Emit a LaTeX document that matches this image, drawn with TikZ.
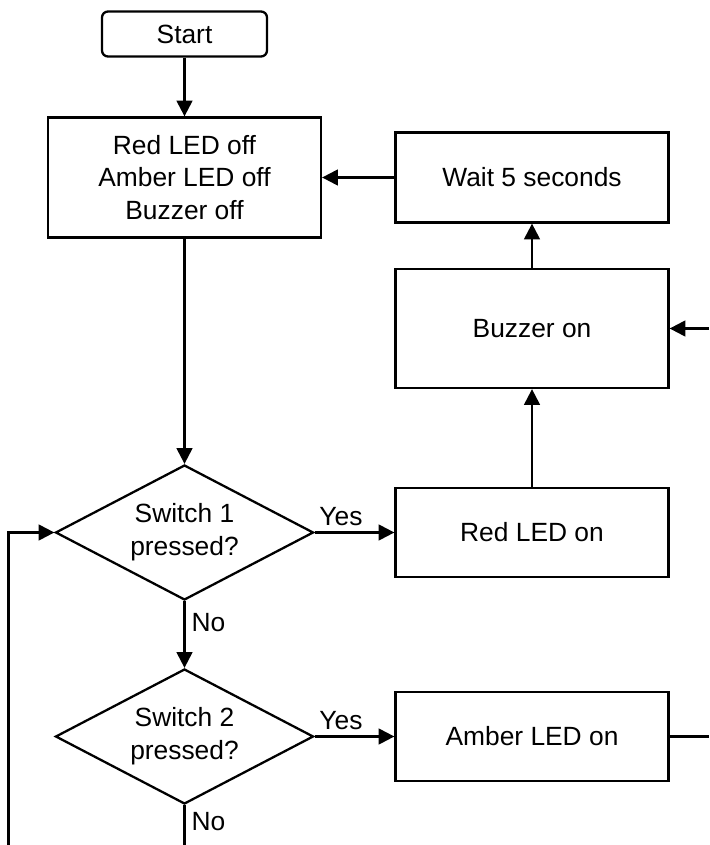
\documentclass[tikz,border=0pt]{standalone}
\usepackage{fontspec}
\setmainfont{Liberation Sans}
\usepackage{tikz}
\usetikzlibrary{arrows.meta,positioning,shapes.geometric}

\begin{document}
\begin{tikzpicture}[
  font=\fontsize{15}{18.6}\selectfont,
  line width=1.3pt,
  box/.style={draw, align=center, minimum width=5.46cm, inner sep=3pt},
  terminal/.style={draw, rounded corners=3.4pt, align=center, minimum width=3.30cm, minimum height=0.90cm},
  decision/.style={draw, diamond, aspect=1.9, align=center, inner sep=0pt, minimum width=5.16cm, minimum height=2.70cm},
  flow/.style={-{Triangle[length=9pt,width=9pt]}},
  plain/.style={-}
]
\useasboundingbox (0,0) rectangle (14.18,-16.90);

\node[terminal] (start) at (3.69,-0.68) {Start};
\node[box, minimum height=2.40cm] (init) at (3.69,-3.55)
  {Red LED off\\Amber LED off\\Buzzer off};
\node[box, minimum height=1.80cm] (wait) at (10.64,-3.55) {Wait 5 seconds};
\node[box, minimum height=2.38cm] (buzzer) at (10.64,-6.57) {Buzzer on};
\node[decision] (switchone) at (3.69,-10.65) {Switch 1\\pressed?};
\node[box, minimum height=1.78cm] (redon) at (10.64,-10.65) {Red LED on};
\node[decision] (switchtwo) at (3.69,-14.73) {Switch 2\\pressed?};
\node[box, minimum height=1.78cm] (amberon) at (10.64,-14.73) {Amber LED on};

\coordinate (buzzerin) at (14.18,-6.57);
\coordinate (amberout) at (14.18,-14.73);
\coordinate (noout) at (3.69,-16.90);
\coordinate (loopin) at (0.17,-16.90);

\draw[flow] (start) -- (init);
\draw[flow] (wait) -- (init);
\draw[flow] (buzzer) -- (wait);
\draw[flow] (redon) -- (buzzer);
\draw[flow] (buzzerin) -- (buzzer);
\draw[flow] (init) -- (switchone);
\draw[flow] (switchone.east) -- node[pos=.33,above]{Yes} (redon);
\draw[flow] (switchone.south) -- node[pos=.32,right]{No} (switchtwo.north);
\draw[flow] (switchtwo.east) -- node[pos=.33,above]{Yes} (amberon);
\draw[plain] (amberon) -- (amberout);
\draw[plain] (switchtwo.south) -- node[pos=.42,right]{No} (noout);
\draw[flow] (loopin) |- (switchone.west);
\end{tikzpicture}
\end{document}
